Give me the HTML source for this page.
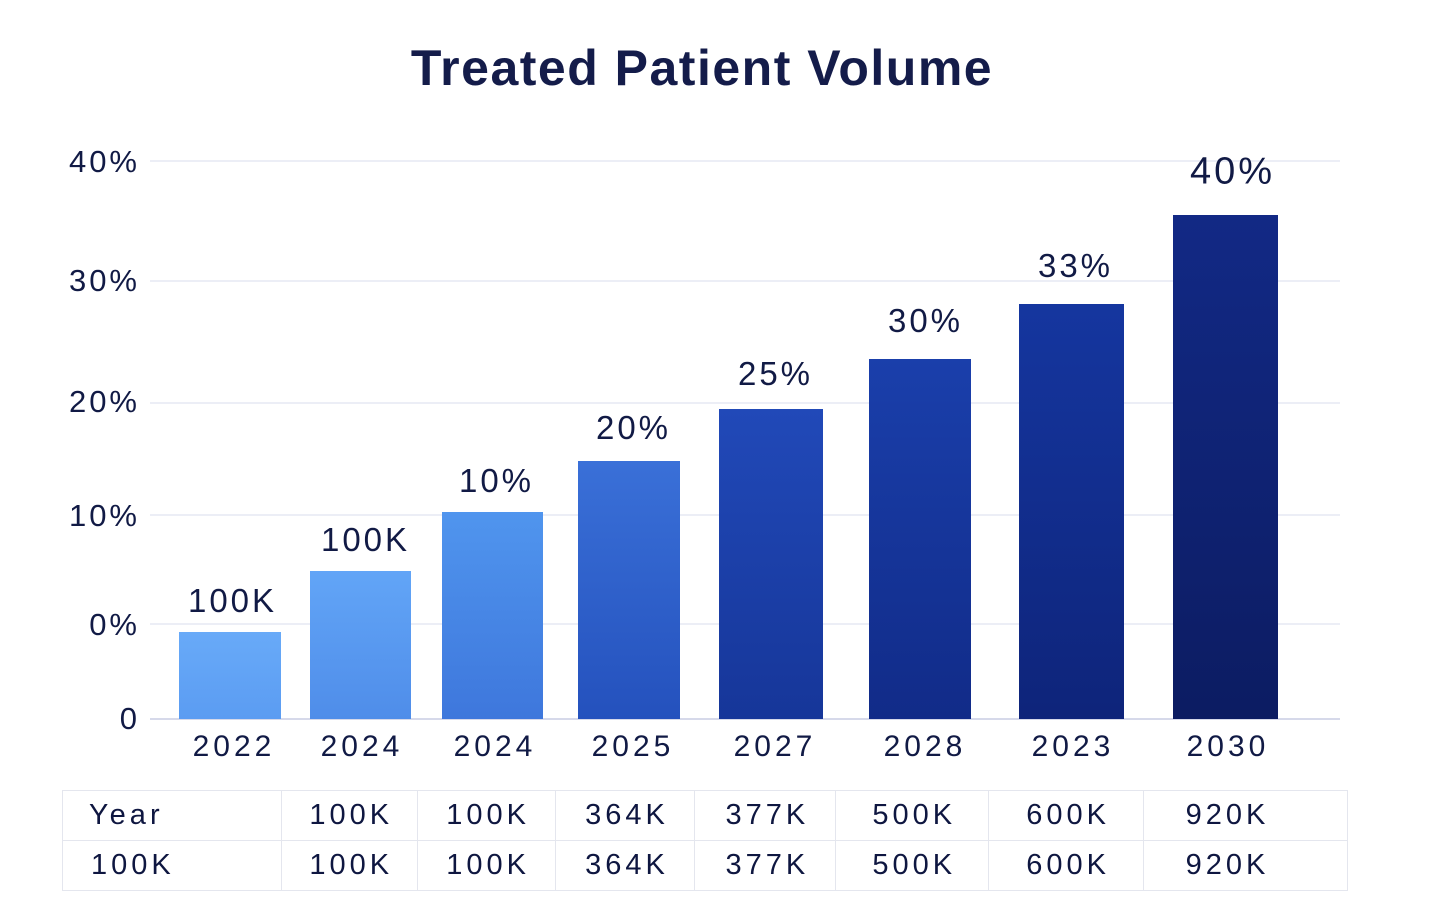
<!DOCTYPE html>
<html><head><meta charset="utf-8"><style>
body{margin:0;width:1456px;height:916px;background:#fff;position:relative;overflow:hidden;font-family:"Liberation Sans","DejaVu Sans",sans-serif;color:#111a45}
.a{position:absolute;white-space:nowrap}
.t{transform:translate(-50%,-50%)}
.v{font-size:33px;letter-spacing:3px;padding-left:3px}
.x{font-size:30px;letter-spacing:4px;padding-left:4px}
.g{position:absolute;left:150px;width:1190px;height:2px;background:#eceef6}
.b{position:absolute;bottom:197px}
.yl{position:absolute;right:1316px;font-size:31px;letter-spacing:3px;transform:translateY(-50%)}
table{position:absolute;left:62px;top:790px;width:1286px;height:101px;border-collapse:collapse;font-size:29px;letter-spacing:4px;color:#0e1640}
td{border:1.5px solid #e4e6ee;text-align:center;padding:0 0 0 4px}
</style></head><body>
<div class="a t" style="left:702px;top:68px;font-size:50px;font-weight:bold;color:#141c4a;letter-spacing:1.5px">Treated Patient Volume</div>
<div class="g" style="top:160px"></div><div class="g" style="top:280px"></div><div class="g" style="top:402px"></div><div class="g" style="top:514px"></div><div class="g" style="top:623px"></div><div class="g" style="top:718px;background:#d6d9ea"></div>
<div class="yl" style="top:162px">40%</div><div class="yl" style="top:281px">30%</div><div class="yl" style="top:402px">20%</div><div class="yl" style="top:516px">10%</div><div class="yl" style="top:625px">0%</div><div class="yl" style="top:719px">0</div>
<div class="b" style="left:179px;width:102px;top:632px;background:linear-gradient(#68aaf8,#5b9cf2)"></div>
<div class="b" style="left:310px;width:101px;top:571px;background:linear-gradient(#62a5f7,#4f8de9)"></div>
<div class="b" style="left:442px;width:101px;top:512px;background:linear-gradient(#5095ee,#3e77dc)"></div>
<div class="b" style="left:578px;width:102px;top:461px;background:linear-gradient(#3a70d8,#2451bd)"></div>
<div class="b" style="left:719px;width:104px;top:409px;background:linear-gradient(#2149b8,#163699)"></div>
<div class="b" style="left:869px;width:102px;top:359px;background:linear-gradient(#1a3fab,#112b88)"></div>
<div class="b" style="left:1019px;width:105px;top:304px;background:linear-gradient(#15369f,#0e247a)"></div>
<div class="b" style="left:1173px;width:105px;top:215px;background:linear-gradient(#122985,#0c1c62)"></div>
<div class="a t v" style="left:231px;top:601px">100K</div>
<div class="a t v" style="left:364px;top:540px">100K</div>
<div class="a t v" style="left:495px;top:481px">10%</div>
<div class="a t v" style="left:632px;top:428px">20%</div>
<div class="a t v" style="left:774px;top:374px">25%</div>
<div class="a t v" style="left:924px;top:321px">30%</div>
<div class="a t v" style="left:1074px;top:266px">33%</div>
<div class="a t v" style="left:1231px;top:172px;font-size:38px">40%</div>
<div class="a t x" style="left:232px;top:747px">2022</div>
<div class="a t x" style="left:360px;top:747px">2024</div>
<div class="a t x" style="left:493px;top:747px">2024</div>
<div class="a t x" style="left:631px;top:747px">2025</div>
<div class="a t x" style="left:773px;top:747px">2027</div>
<div class="a t x" style="left:923px;top:747px">2028</div>
<div class="a t x" style="left:1071px;top:747px">2023</div>
<div class="a t x" style="left:1226px;top:747px">2030</div>
<table>
<colgroup><col style="width:219px"><col style="width:136px"><col style="width:138px"><col style="width:140px"><col style="width:141px"><col style="width:153px"><col style="width:155px"><col style="width:204px"></colgroup>
<tr><td style="text-align:left;padding-left:26px">Year</td><td>100K</td><td>100K</td><td>364K</td><td>377K</td><td>500K</td><td>600K</td><td style="padding-right:40px">920K</td></tr>
<tr><td style="text-align:left;padding-left:28px">100K</td><td>100K</td><td>100K</td><td>364K</td><td>377K</td><td>500K</td><td>600K</td><td style="padding-right:40px">920K</td></tr>
</table>
</body></html>
